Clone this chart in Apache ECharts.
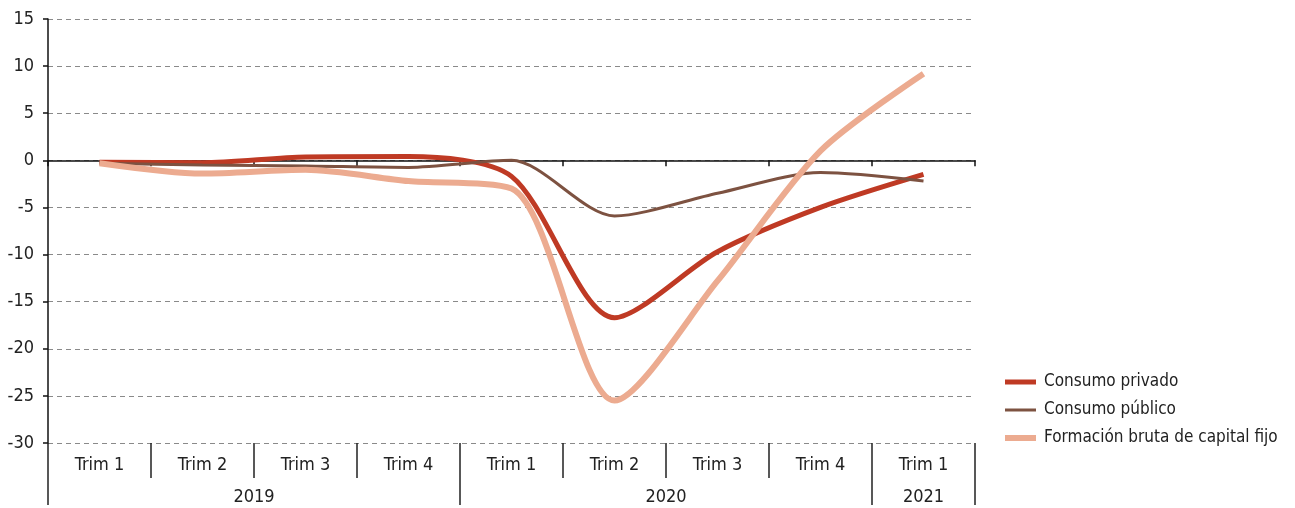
<!DOCTYPE html>
<html>
<head>
<meta charset="utf-8">
<script src="https://cdn.jsdelivr.net/npm/echarts@6/dist/echarts.min.js"></script>
<style>
html,body{margin:0;padding:0;background:#fff;}
#chart{width:1295px;height:508px;}
</style>
</head>
<body>
<div id="chart"></div>
<script>
const quarters = ['Trim 1','Trim 2','Trim 3','Trim 4','Trim 1','Trim 2','Trim 3','Trim 4','Trim 1'];
const years = ['2019','2020','2021'];
const yearSpans = [4, 4, 1];
const consumoPrivado = [-0.2, -0.25, 0.35, 0.4, -1.7, -16.7, -9.7, -5.0, -1.5];
const consumoPublico = [-0.3, -0.5, -0.6, -0.75, 0.0, -5.9, -3.5, -1.3, -2.2];
const formacionBruta = [-0.3, -1.4, -1.0, -2.2, -3.0, -25.5, -12.8, 1.0, 9.2];
const yTicks = [-30, -25, -20, -15, -10, -5, 0, 5, 10, 15];

const FONT = '"Liberation Sans Narrow", "DejaVu Sans Condensed", "Roboto", sans-serif';
const TXT = '#222';
const SMOOTH = 0.28;

// half-quarter categories for the year axis
const halves = [];
const yearLabelIdx = {};
const yearTickIdx = [0];
let pos = 0;
years.forEach((y, i) => {
  const span = yearSpans[i] * 2;
  yearLabelIdx[pos + span / 2] = y;
  pos += span;
  yearTickIdx.push(pos);
});
for (let i = 0; i <= pos; i++) halves.push(yearLabelIdx[i] || '');

const chart = echarts.init(document.getElementById('chart'), null, {renderer: 'canvas'});
chart.setOption({
  animation: false,
  textStyle: {fontFamily: FONT},
  grid: {left: 48, right: 320, top: 19, bottom: 65, containLabel: false},
  legend: {
    orient: 'vertical',
    left: 1005,
    top: 372,
    padding: 0,
    itemWidth: 31,
    itemHeight: 14,
    itemGap: 8,
    textStyle: {fontFamily: FONT, fontSize: 17, lineHeight: 20, color: TXT, padding: [0,0,0,3]},
    data: [
      {name: 'Consumo privado', icon: 'path://M0,0 H31 V5 H0 Z'},
      {name: 'Consumo público', icon: 'path://M0,0 H31 V3 H0 Z'},
      {name: 'Formación bruta de capital fijo', icon: 'path://M0,0 H31 V6 H0 Z'}
    ]
  },
  xAxis: [
    {
      type: 'category', data: quarters, position: 'bottom', boundaryGap: true,
      axisLine: {show: true, onZero: true, lineStyle: {color: '#111', width: 1.5}},
      axisTick: {show: true, length: 6, lineStyle: {color: '#111', width: 1.5}},
      axisLabel: {show: false}, splitLine: {show: false}
    },
    {
      type: 'category', data: quarters, position: 'bottom', boundaryGap: true,
      axisLine: {show: false, onZero: false},
      axisTick: {show: true, length: 35, lineStyle: {color: '#222', width: 1.5}},
      axisLabel: {show: true, margin: 13, fontFamily: FONT, fontSize: 18, color: TXT},
      splitLine: {show: false}
    },
    {
      type: 'category', data: halves, position: 'bottom', boundaryGap: false,
      axisLine: {show: false, onZero: false},
      axisTick: {show: true, length: 62, alignWithLabel: true,
        interval: (idx) => yearTickIdx.indexOf(idx) >= 0,
        lineStyle: {color: '#222', width: 1.5}},
      axisLabel: {show: true, margin: 45, fontFamily: FONT, fontSize: 18, color: TXT,
        interval: (idx, val) => val !== ''},
      splitLine: {show: false}
    }
  ],
  yAxis: {
    type: 'value', min: -30, max: 15, interval: 5,
    axisLine: {show: true, lineStyle: {color: '#111', width: 1.5}},
    axisTick: {show: true, length: 5, lineStyle: {color: '#111', width: 1.5}},
    axisLabel: {margin: 14, fontFamily: FONT, fontSize: 18, color: TXT,
      formatter: (v) => yTicks.indexOf(v) >= 0 ? String(v) : ''},
    splitLine: {show: true, lineStyle: {color: '#8a8a8a', width: 1, type: [5, 4]}}
  },
  series: [
    {name: 'Consumo privado', type: 'line', xAxisIndex: 0, data: consumoPrivado, smooth: SMOOTH,
      symbol: 'none', lineStyle: {width: 5, color: '#BF3A24'}, itemStyle: {color: '#BF3A24'}},
    {name: 'Consumo público', type: 'line', xAxisIndex: 0, data: consumoPublico, smooth: SMOOTH,
      symbol: 'none', lineStyle: {width: 3, color: '#7D5241'}, itemStyle: {color: '#7D5241'}},
    {name: 'Formación bruta de capital fijo', type: 'line', xAxisIndex: 0, data: formacionBruta, smooth: SMOOTH,
      symbol: 'none', lineStyle: {width: 6, color: '#ECAB90'}, itemStyle: {color: '#ECAB90'}}
  ]
});
</script>
</body>
</html>
